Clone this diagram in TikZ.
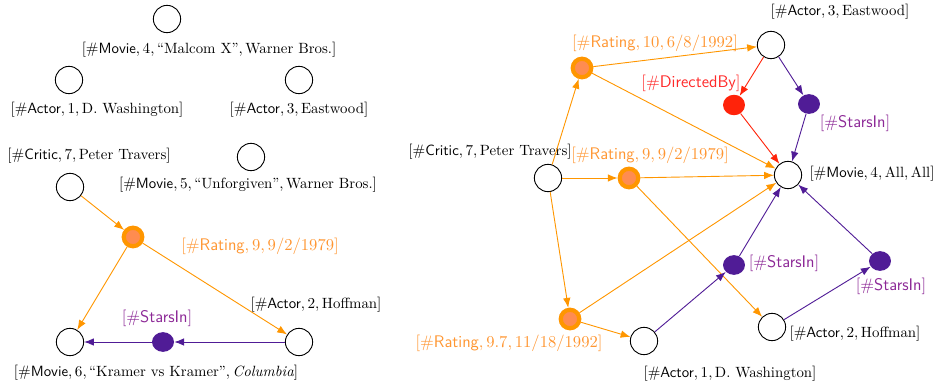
\documentclass[tikz,border=0pt]{standalone}
\usepackage{amsmath}
\usetikzlibrary{arrows.meta,shapes.geometric}
\definecolor{rateorange}{RGB}{255,150,0}
\definecolor{ratefill}{RGB}{255,140,80}
\definecolor{ratetext}{RGB}{255,150,50}
\definecolor{starpurple}{RGB}{80,28,150}
\definecolor{startext}{RGB}{140,40,150}
\definecolor{dirred}{RGB}{255,35,10}
\definecolor{dirtext}{RGB}{255,40,40}
\tikzset{
  entity/.style={circle,draw=black,line width=0.6pt,minimum size=18pt,inner sep=0pt},
  rating/.style={circle,fill=ratefill,draw=rateorange,line width=2.8pt,minimum size=12.2pt,inner sep=0pt},
  stars/.style={ellipse,fill=starpurple,minimum width=14.5pt,minimum height=13pt,inner sep=0pt},
  directed/.style={ellipse,fill=dirred,minimum width=14.5pt,minimum height=13.5pt,inner sep=0pt},
  lbl/.style={inner sep=0pt,font=\fontsize{9.8}{12}\selectfont},
  biglbl/.style={inner sep=0pt,font=\fontsize{11.1}{13}\selectfont},
  ratelbl/.style={biglbl,text=ratetext},
  starlbl/.style={biglbl,text=startext},
  dirlbl/.style={biglbl,text=dirtext},
  tip/.style={-{Latex[length=6.5pt,width=5pt]}},
  oedge/.style={tip,draw=rateorange,line width=0.6pt},
  pedge/.style={tip,draw=starpurple,line width=0.6pt},
  redge/.style={tip,draw=dirred,line width=0.6pt},
}
\begin{document}
\begin{tikzpicture}[x=0.66pt,y=-0.66pt]
\useasboundingbox (0,0) rectangle (935,385);

% ---- left graph ----
\node[entity] (lm4) at (167,19) {};
\node[lbl] (lm4l) at (209,50) {$[\#\textsf{Movie}, 4, \text{``Malcom X''}, \text{Warner Bros.}]$};
\node[entity] (la1) at (69,80) {};
\node[lbl] (la1l) at (97,110) {$[\#\textsf{Actor}, 1, \text{D. Washington}]$};
\node[entity] (la3) at (299,80) {};
\node[lbl] (la3l) at (299,110) {$[\#\textsf{Actor}, 3, \text{Eastwood}]$};
\node[entity] (lc7) at (70,187) {};
\node[lbl] (lc7l) at (89,156) {$[\#\textsf{Critic}, 7, \text{Peter Travers}]$};
\node[entity] (lm5) at (251,157) {};
\node[lbl] (lm5l) at (248,185) {$[\#\textsf{Movie}, 5, \text{``Unforgiven''}, \text{Warner Bros.}]$};
\node[rating] (lr) at (133,237) {};
\node[ratelbl] (lrl) at (260,246) {$[\#\textsf{Rating}, 9, 9/2/1979]$};
\node[entity] (lm6) at (70,342) {};
\node[lbl] (lm6l) at (156,373) {$[\#\textsf{Movie}, 6, \text{``Kramer vs Kramer''}, \textit{Columbia}]$};
\node[entity] (la2) at (299,342) {};
\node[lbl] (la2l) at (316,305) {$[\#\textsf{Actor}, 2, \text{Hoffman}]$};
\node[stars] (ls) at (163,342) {};
\node[starlbl] (lsl) at (157,318) {$[\#\textsf{StarsIn}]$};

\draw[oedge] (lc7) -- (lr);
\draw[oedge] (lr) -- (lm6);
\draw[oedge] (lr) -- (la2);
\draw[pedge] (la2) -- (ls);
\draw[pedge] (ls) -- (lm6);

% ---- right graph ----
\node[entity] (ra3) at (771,45) {};
\node[lbl] (ra3l) at (840,12) {$[\#\textsf{Actor}, 3, \text{Eastwood}]$};
\node[rating] (rr10) at (582,68) {};
\node[ratelbl] (rr10l) at (655,43) {$[\#\textsf{Rating}, 10, 6/8/1992]$};
\node[directed] (rdb) at (734,105) {};
\node[dirlbl] (rdbl) at (691,83) {$[\#\textsf{DirectedBy}]$};
\node[stars] (rs3) at (809,104) {};
\node[starlbl] (rs3l) at (855,123) {$[\#\textsf{StarsIn}]$};
\node[entity] (rc7) at (548,178) {};
\node[lbl] (rc7l) at (490,152) {$[\#\textsf{Critic}, 7, \text{Peter Travers}]$};
\node[rating] (rr9) at (629,178) {};
\node[ratelbl] (rr9l) at (650,155) {$[\#\textsf{Rating}, 9, 9/2/1979]$};
\node[entity] (rm4) at (788,175) {};
\node[lbl] (rm4l) at (872,174) {$[\#\textsf{Movie}, 4, \text{All}, \text{All}]$};
\node[stars] (rs1) at (734,265) {};
\node[starlbl] (rs1l) at (784,263) {$[\#\textsf{StarsIn}]$};
\node[stars] (rs2) at (880,261) {};
\node[starlbl] (rs2l) at (891,286) {$[\#\textsf{StarsIn}]$};
\node[entity] (ra2) at (772,327) {};
\node[lbl] (ra2l) at (855,334) {$[\#\textsf{Actor}, 2, \text{Hoffman}]$};
\node[rating] (rr97) at (570,319) {};
\node[ratelbl] (rr97l) at (509,343) {$[\#\textsf{Rating}, 9.7, 11/18/1992]$};
\node[entity] (ra1) at (644,341) {};
\node[lbl] (ra1l) at (730,374) {$[\#\textsf{Actor}, 1, \text{D. Washington}]$};

\draw[oedge] (rc7) -- (rr10);
\draw[oedge] (rc7) -- (rr9);
\draw[oedge] (rc7) -- (rr97);
\draw[oedge] (rr10) -- (ra3);
\draw[oedge] (rr10) -- (rm4);
\draw[oedge] (rr9) -- (rm4);
\draw[oedge] (rr9) -- (ra2);
\draw[oedge] (rr97) -- (rm4);
\draw[oedge] (rr97) -- (ra1);
\draw[redge] (ra3) -- (rdb);
\draw[redge] (rdb) -- (rm4);
\draw[pedge] (ra3) -- (rs3);
\draw[pedge] (rs3) -- (rm4);
\draw[pedge] (ra1) -- (rs1);
\draw[pedge] (rs1) -- (rm4);
\draw[pedge] (ra2) -- (rs2);
\draw[pedge] (rs2) -- (rm4);
\end{tikzpicture}
\end{document}
